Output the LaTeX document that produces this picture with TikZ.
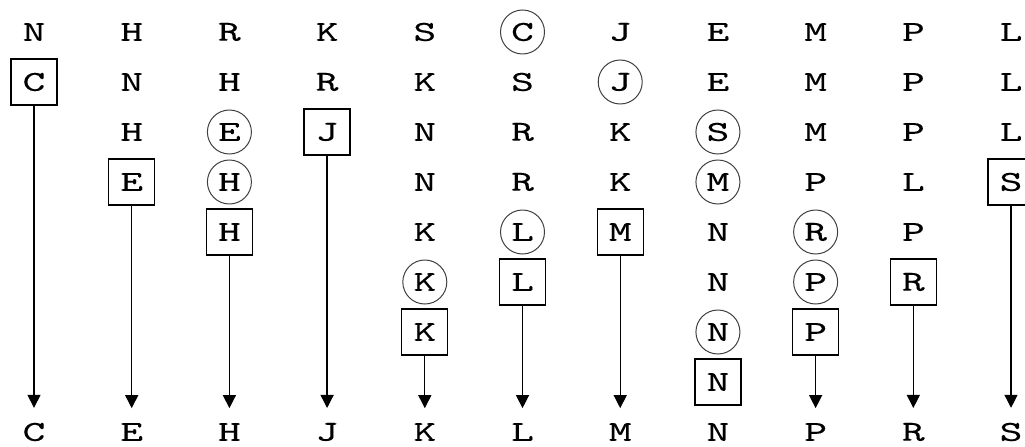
\documentclass[tikz,border=0pt]{standalone}
\usepackage{fontspec}
\newfontfamily\gridfont{lmmono10-regular.otf}[FakeStretch=1.5,FakeBold=0.2]
\usetikzlibrary{arrows.meta}
\begin{document}
\begin{tikzpicture}[x=97.7pt,y=-50pt,
  letter/.style={font={\gridfont\fontsize{29}{29}\selectfont}, inner sep=0pt},
  ringed/.style={letter, circle, draw=black!75, line width=1pt, minimum size=44pt},
  boxed/.style={letter, rectangle, draw, line width=1.3pt, minimum size=46pt},
  result/.style={letter, outer ysep=15pt},
  fall/.style={-{Triangle[width=13pt,length=13pt]}, line width=1.3pt}]
\useasboundingbox (-0.348,-0.64) rectangle (10.143,8.28);

% column 1
\node[letter] (a1) at (0,0) {N};
\node[boxed]  (a2) at (0,1) {C};
\node[result] (a9) at (0,8) {C};
\draw[fall] (a2) -- (a9);

% column 2
\node[letter] (b1) at (1,0) {H};
\node[letter] (b2) at (1,1) {N};
\node[letter] (b3) at (1,2) {H};
\node[boxed]  (b4) at (1,3) {E};
\node[result] (b9) at (1,8) {E};
\draw[fall] (b4) -- (b9);

% column 3
\node[letter] (c1) at (2,0) {R};
\node[letter] (c2) at (2,1) {H};
\node[ringed] (c3) at (2,2) {E};
\node[ringed] (c4) at (2,3) {H};
\node[boxed]  (c5) at (2,4) {H};
\node[result] (c9) at (2,8) {H};
\draw[fall] (c5) -- (c9);

% column 4
\node[letter] (d1) at (3,0) {K};
\node[letter] (d2) at (3,1) {R};
\node[boxed]  (d3) at (3,2) {J};
\node[result] (d9) at (3,8) {J};
\draw[fall] (d3) -- (d9);

% column 5
\node[letter] (e1) at (4,0) {S};
\node[letter] (e2) at (4,1) {K};
\node[letter] (e3) at (4,2) {N};
\node[letter] (e4) at (4,3) {N};
\node[letter] (e5) at (4,4) {K};
\node[ringed] (e6) at (4,5) {K};
\node[boxed]  (e7) at (4,6) {K};
\node[result] (e9) at (4,8) {K};
\draw[fall] (e7) -- (e9);

% column 6
\node[ringed] (f1) at (5,0) {C};
\node[letter] (f2) at (5,1) {S};
\node[letter] (f3) at (5,2) {R};
\node[letter] (f4) at (5,3) {R};
\node[ringed] (f5) at (5,4) {L};
\node[boxed]  (f6) at (5,5) {L};
\node[result] (f9) at (5,8) {L};
\draw[fall] (f6) -- (f9);

% column 7
\node[letter] (g1) at (6,0) {J};
\node[ringed] (g2) at (6,1) {J};
\node[letter] (g3) at (6,2) {K};
\node[letter] (g4) at (6,3) {K};
\node[boxed]  (g5) at (6,4) {M};
\node[result] (g9) at (6,8) {M};
\draw[fall] (g5) -- (g9);

% column 8
\node[letter] (h1) at (7,0) {E};
\node[letter] (h2) at (7,1) {E};
\node[ringed] (h3) at (7,2) {S};
\node[ringed] (h4) at (7,3) {M};
\node[letter] (h5) at (7,4) {N};
\node[letter] (h6) at (7,5) {N};
\node[ringed] (h7) at (7,6) {N};
\node[boxed]  (h8) at (7,7) {N};
\node[result] (h9) at (7,8) {N};

% column 9
\node[letter] (i1) at (8,0) {M};
\node[letter] (i2) at (8,1) {M};
\node[letter] (i3) at (8,2) {M};
\node[letter] (i4) at (8,3) {P};
\node[ringed] (i5) at (8,4) {R};
\node[ringed] (i6) at (8,5) {P};
\node[boxed]  (i7) at (8,6) {P};
\node[result] (i9) at (8,8) {P};
\draw[fall] (i7) -- (i9);

% column 10
\node[letter] (j1) at (9,0) {P};
\node[letter] (j2) at (9,1) {P};
\node[letter] (j3) at (9,2) {P};
\node[letter] (j4) at (9,3) {L};
\node[letter] (j5) at (9,4) {P};
\node[boxed]  (j6) at (9,5) {R};
\node[result] (j9) at (9,8) {R};
\draw[fall] (j6) -- (j9);

% column 11
\node[letter] (k1) at (10,0) {L};
\node[letter] (k2) at (10,1) {L};
\node[letter] (k3) at (10,2) {L};
\node[boxed]  (k4) at (10,3) {S};
\node[result] (k9) at (10,8) {S};
\draw[fall] (k4) -- (k9);
\end{tikzpicture}
\end{document}
